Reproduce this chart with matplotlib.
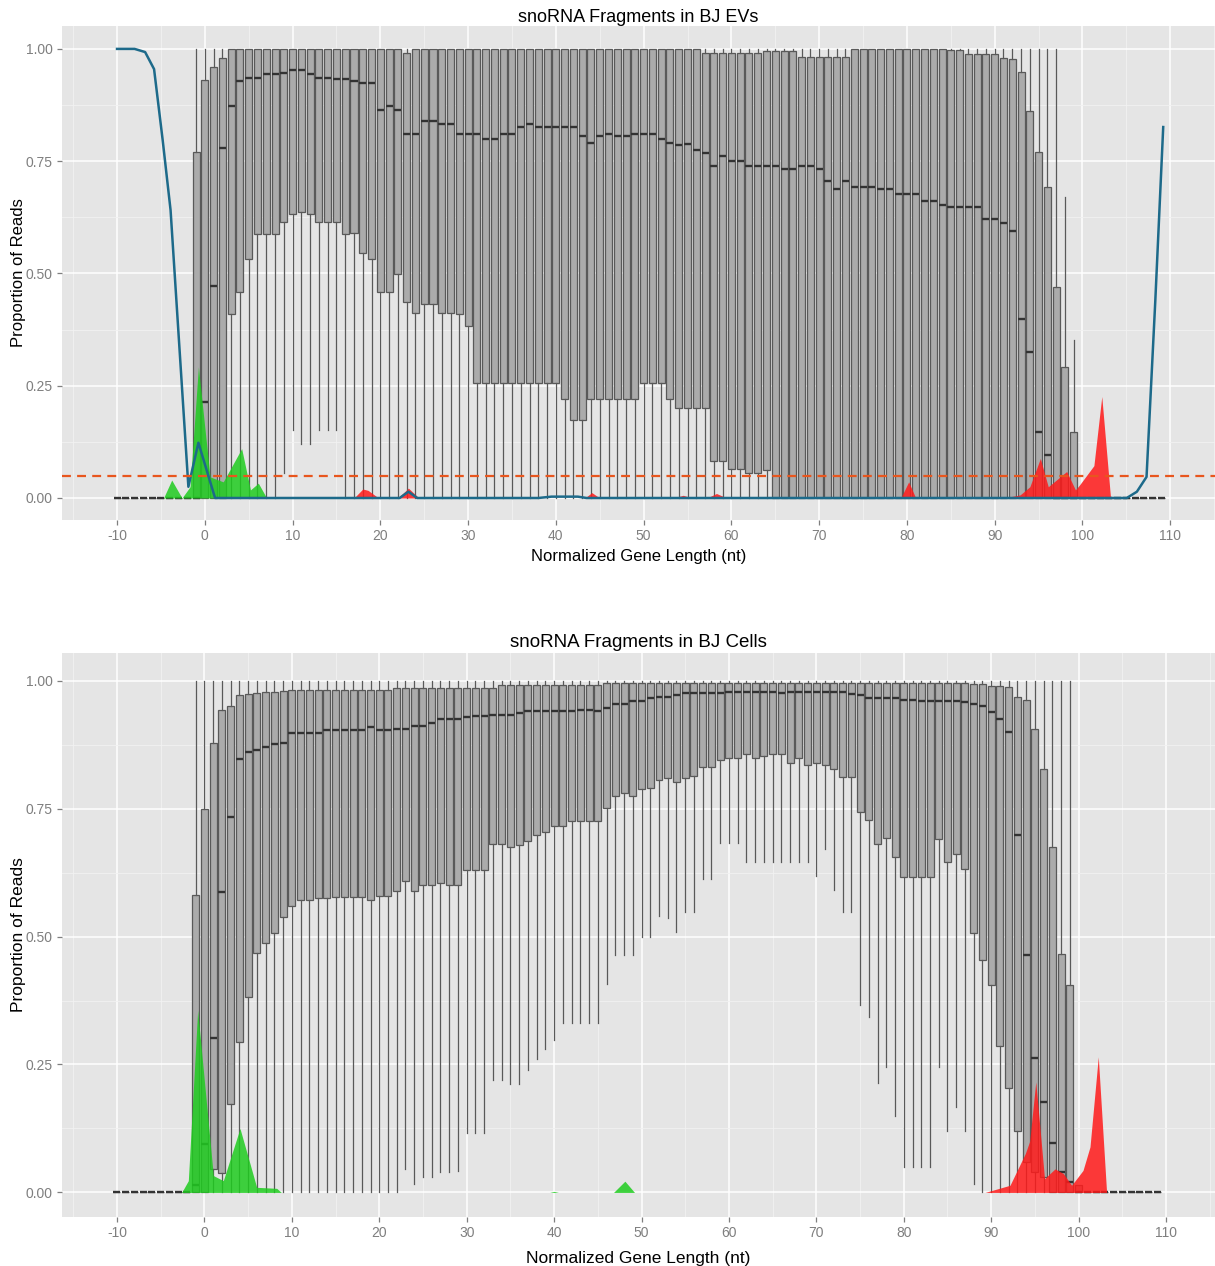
import matplotlib
matplotlib.use("Agg")
import matplotlib.pyplot as plt
from matplotlib.ticker import MultipleLocator

plt.rcParams['font.family'] = ['Liberation Sans', 'DejaVu Sans']

# ---------------- data: top panel (BJ EVs), box positions -1..99 ----------------
top_pos = list(range(-1, 100))
top_q3 = [0.77, 0.93, 0.96, 0.98, 1.00, 1.00, 1.00, 1.00, 1.00, 1.00,
          1.00, 1.00, 1.00, 1.00, 1.00, 1.00, 1.00, 1.00, 1.00, 1.00,
          1.00, 1.00, 1.00, 1.00, 0.99, 1.00, 1.00, 1.00, 1.00, 1.00,
          1.00, 1.00, 1.00, 1.00, 1.00, 1.00, 1.00, 1.00, 1.00, 1.00,
          1.00, 1.00, 1.00, 1.00, 1.00, 1.00, 1.00, 1.00, 1.00, 1.00,
          1.00, 1.00, 1.00, 1.00, 1.00, 1.00, 1.00, 1.00, 0.99, 0.99,
          0.99, 0.99, 0.99, 0.99, 0.99, 0.995, 0.995, 0.995, 0.995, 0.983,
          0.983, 0.983, 0.982, 0.982, 0.983, 1.00, 1.00, 1.00, 1.00, 1.00,
          1.00, 1.00, 1.00, 1.00, 1.00, 1.00, 0.998, 0.998, 0.989, 0.989,
          0.989, 0.989, 0.979, 0.977, 0.949, 0.862, 0.771, 0.692, 0.469, 0.292,
          0.146]
top_med = [0.0, 0.214, 0.471, 0.780, 0.872, 0.929, 0.936, 0.936, 0.945, 0.945,
           0.947, 0.952, 0.952, 0.945, 0.936, 0.936, 0.934, 0.934, 0.929, 0.925,
           0.925, 0.863, 0.872, 0.863, 0.811, 0.811, 0.840, 0.840, 0.833, 0.833,
           0.811, 0.811, 0.811, 0.800, 0.800, 0.811, 0.811, 0.827, 0.833, 0.827,
           0.827, 0.827, 0.827, 0.827, 0.805, 0.791, 0.805, 0.811, 0.805, 0.805,
           0.811, 0.811, 0.811, 0.800, 0.791, 0.786, 0.789, 0.774, 0.769, 0.740,
           0.762, 0.751, 0.751, 0.740, 0.740, 0.740, 0.740, 0.733, 0.733, 0.740,
           0.740, 0.733, 0.705, 0.687, 0.705, 0.693, 0.693, 0.693, 0.687, 0.687,
           0.676, 0.676, 0.676, 0.662, 0.662, 0.653, 0.649, 0.649, 0.649, 0.649,
           0.622, 0.622, 0.613, 0.595, 0.399, 0.324, 0.146, 0.096, 0.0, 0.0,
           0.0]
top_q1 = [0.0, 0.0, 0.0, 0.0, 0.409, 0.458, 0.532, 0.587, 0.587, 0.587,
          0.614, 0.632, 0.637, 0.632, 0.614, 0.614, 0.614, 0.587, 0.589, 0.545,
          0.532, 0.458, 0.458, 0.498, 0.436, 0.411, 0.433, 0.433, 0.411, 0.411,
          0.409, 0.383, 0.255, 0.255, 0.255, 0.255, 0.255, 0.255, 0.255, 0.255,
          0.255, 0.255, 0.220, 0.174, 0.174, 0.220, 0.220, 0.220, 0.220, 0.220,
          0.220, 0.255, 0.255, 0.255, 0.220, 0.200, 0.200, 0.200, 0.200, 0.082,
          0.082, 0.064, 0.064, 0.055, 0.055, 0.062, 0.0, 0.0, 0.0, 0.0,
          0.0, 0.0, 0.0, 0.0, 0.0, 0.0, 0.0, 0.0, 0.0, 0.0,
          0.0, 0.0, 0.0, 0.0, 0.0, 0.0, 0.0, 0.0, 0.0, 0.0,
          0.0, 0.0, 0.0, 0.0, 0.0, 0.0, 0.0, 0.0, 0.0, 0.0,
          0.0]
top_lo = [0.0, 0.0, 0.0, 0.0, 0.0, 0.0, 0.0, 0.0, 0.0, 0.0,
          0.055, 0.151, 0.120, 0.120, 0.151, 0.151, 0.151, 0.0, 0.0, 0.0,
          0.0, 0.0, 0.0, 0.0, 0.0, 0.0, 0.0, 0.0, 0.0, 0.0,
          0.0, 0.0, 0.0, 0.0, 0.0, 0.0, 0.0, 0.0, 0.0, 0.0,
          0.0, 0.0, 0.0, 0.0, 0.0, 0.0, 0.0, 0.0, 0.0, 0.0,
          0.0, 0.0, 0.0, 0.0, 0.0, 0.0, 0.0, 0.0, 0.0, 0.0,
          0.0, 0.0, 0.0, 0.0, 0.0, 0.0, 0.0, 0.0, 0.0, 0.0,
          0.0, 0.0, 0.0, 0.0, 0.0, 0.0, 0.0, 0.0, 0.0, 0.0,
          0.0, 0.0, 0.0, 0.0, 0.0, 0.0, 0.0, 0.0, 0.0, 0.0,
          0.0, 0.0, 0.0, 0.0, 0.0, 0.0, 0.0, 0.0, 0.0, 0.0,
          0.0]
top_hi = [1.0] * 99 + [0.670, 0.352]
top_zero_pos = [-10, -9, -8, -7, -6, -5, -4, -3, -2,
                100, 101, 102, 103, 104, 105, 106, 107, 108, 109]

top_green_x = [-4.7, -3.77, -2.6, -1.68, -0.73, 0.6, 2.1, 4.2, 5.2, 6.1, 7.05]
top_green_y = [0.0, 0.04, 0.0, 0.025, 0.292, 0.047, 0.036, 0.11, 0.018, 0.033, 0.0]
top_red_x = [17.0, 18.0, 18.6, 19.8, 22.0, 23.2, 24.4, 43.3, 44.1, 45.0,
             53.4, 54.5, 55.6, 57.2, 58.3, 59.5, 79.3, 80.2, 81.0,
             91.0, 92.9, 94.0, 95.2, 96.1, 98.2, 99.2, 99.7, 101.3, 102.2, 103.2]
top_red_y = [0.0, 0.02, 0.017, 0.0, 0.0, 0.022, 0.0, 0.0, 0.012, 0.0,
             0.0, 0.006, 0.0, 0.0, 0.01, 0.0, 0.0, 0.036, 0.0,
             0.0, 0.007, 0.025, 0.088, 0.025, 0.059, 0.018, 0.03, 0.072, 0.226, 0.0]
top_blue_x = [-10.0, -8.0, -6.8, -5.78, -4.8, -3.9, -1.87, -0.73, 1.17,
              22.2, 23.2, 24.2, 38.0, 39.5, 42.5, 43.5,
              105.05, 106.2, 107.3, 108.3, 109.2]
top_blue_y = [1.0, 1.0, 0.993, 0.955, 0.797, 0.641, 0.025, 0.123, 0.0,
              0.0, 0.014, 0.0, 0.0, 0.003, 0.003, 0.0,
              0.0, 0.014, 0.047, 0.44, 0.826]
top_threshold = 0.05

# ---------------- data: bottom panel (BJ Cells), box positions -1..100 ----------------
bot_pos = list(range(-1, 101))
bot_q3 = [0.581, 0.749, 0.878, 0.942, 0.951, 0.971, 0.973, 0.975, 0.977, 0.977,
          0.979, 0.981, 0.981, 0.981, 0.981, 0.981, 0.981, 0.981, 0.981, 0.981,
          0.981, 0.981, 0.981, 0.985, 0.985, 0.985, 0.985, 0.985, 0.985, 0.985,
          0.985, 0.985, 0.985, 0.985, 0.985, 0.991, 0.991, 0.991, 0.991, 0.991,
          0.991, 0.991, 0.991, 0.991, 0.991, 0.991, 0.991, 0.996, 0.996, 0.996,
          0.996, 0.996, 0.996, 0.996, 0.996, 0.996, 0.996, 0.996, 0.996, 0.996,
          0.996, 0.996, 0.996, 0.996, 0.996, 0.996, 0.996, 0.996, 0.996, 0.996,
          0.996, 0.996, 0.996, 0.996, 0.996, 0.996, 0.996, 0.996, 0.996, 0.996,
          0.996, 0.996, 0.996, 0.996, 0.996, 0.996, 0.996, 0.996, 0.996, 0.993,
          0.993, 0.990, 0.990, 0.988, 0.968, 0.962, 0.906, 0.828, 0.674, 0.465,
          0.406, 0.015]
bot_med = [0.014, 0.095, 0.301, 0.587, 0.734, 0.847, 0.860, 0.864, 0.871, 0.877,
           0.879, 0.898, 0.898, 0.898, 0.898, 0.903, 0.903, 0.903, 0.903, 0.903,
           0.909, 0.903, 0.903, 0.905, 0.905, 0.912, 0.912, 0.918, 0.925, 0.925,
           0.925, 0.928, 0.930, 0.930, 0.933, 0.933, 0.933, 0.937, 0.941, 0.941,
           0.941, 0.941, 0.941, 0.941, 0.943, 0.943, 0.941, 0.946, 0.954, 0.954,
           0.961, 0.961, 0.966, 0.969, 0.969, 0.972, 0.976, 0.976, 0.976, 0.976,
           0.976, 0.977, 0.977, 0.977, 0.977, 0.977, 0.977, 0.976, 0.977, 0.977,
           0.977, 0.977, 0.977, 0.977, 0.977, 0.974, 0.972, 0.967, 0.967, 0.967,
           0.967, 0.963, 0.963, 0.961, 0.961, 0.961, 0.961, 0.961, 0.958, 0.954,
           0.950, 0.939, 0.925, 0.900, 0.699, 0.464, 0.262, 0.176, 0.097, 0.040,
           0.020, 0.0]
bot_q1 = [0.0, 0.0, 0.045, 0.037, 0.172, 0.294, 0.382, 0.467, 0.487, 0.506,
          0.538, 0.560, 0.571, 0.571, 0.575, 0.575, 0.578, 0.578, 0.578, 0.578,
          0.571, 0.579, 0.579, 0.588, 0.608, 0.588, 0.601, 0.601, 0.604, 0.600,
          0.600, 0.630, 0.630, 0.630, 0.681, 0.681, 0.675, 0.678, 0.686, 0.698,
          0.704, 0.715, 0.715, 0.726, 0.726, 0.726, 0.726, 0.752, 0.775, 0.781,
          0.774, 0.789, 0.791, 0.806, 0.809, 0.801, 0.809, 0.814, 0.832, 0.832,
          0.844, 0.848, 0.848, 0.857, 0.848, 0.852, 0.857, 0.857, 0.839, 0.848,
          0.835, 0.839, 0.835, 0.828, 0.811, 0.811, 0.744, 0.727, 0.680, 0.693,
          0.656, 0.617, 0.617, 0.617, 0.617, 0.691, 0.645, 0.661, 0.631, 0.507,
          0.454, 0.406, 0.286, 0.204, 0.121, 0.059, 0.040, 0.030, 0.0, 0.0,
          0.0, 0.0]
bot_lo = [0.0, 0.0, 0.0, 0.0, 0.0, 0.0, 0.0, 0.0, 0.0, 0.0,
          0.0, 0.0, 0.0, 0.0, 0.0, 0.0, 0.0, 0.0, 0.0, 0.0,
          0.0, 0.0, 0.0, 0.0, 0.046, 0.017, 0.031, 0.031, 0.039, 0.039,
          0.042, 0.116, 0.116, 0.116, 0.220, 0.220, 0.212, 0.212, 0.239, 0.261,
          0.280, 0.297, 0.331, 0.331, 0.331, 0.331, 0.331, 0.408, 0.464, 0.464,
          0.464, 0.500, 0.500, 0.541, 0.537, 0.508, 0.547, 0.547, 0.612, 0.612,
          0.682, 0.682, 0.682, 0.646, 0.646, 0.646, 0.646, 0.646, 0.646, 0.646,
          0.646, 0.618, 0.672, 0.591, 0.547, 0.547, 0.367, 0.343, 0.213, 0.245,
          0.149, 0.050, 0.050, 0.050, 0.050, 0.245, 0.121, 0.166, 0.121, 0.017,
          0.0, 0.0, 0.0, 0.0, 0.0, 0.0, 0.0, 0.0, 0.0, 0.0,
          0.0, 0.0]
bot_hi = [1.0] * 101 + [0.015]
bot_zero_pos = [-10, -9, -8, -7, -6, -5, -4, -3, -2,
                101, 102, 103, 104, 105, 106, 107, 108, 109]

bot_green_x = [-2.6, -1.84, -0.77, 1.02, 2.16, 4.07, 5.98, 8.27, 8.8,
               39.5, 40.0, 40.5, 46.8, 48.1, 49.2]
bot_green_y = [0.0, 0.023, 0.356, 0.033, 0.023, 0.125, 0.010, 0.008, 0.0,
               0.0, 0.002, 0.0, 0.0, 0.022, 0.0]
bot_red_x = [89.3, 92.15, 93.9, 94.4, 95.1, 96.1, 97.3, 98.25, 99.2, 100.5, 101.3, 102.25, 103.2]
bot_red_y = [0.0, 0.014, 0.076, 0.10, 0.216, 0.027, 0.046, 0.037, 0.014, 0.043, 0.089, 0.265, 0.0]

x_ticks = [-10, 0, 10, 20, 30, 40, 50, 60, 70, 80, 90, 100, 110]
y_ticks = [0.0, 0.25, 0.5, 0.75, 1.0]
y_tick_labels = ["0.00", "0.25", "0.50", "0.75", "1.00"]

# ---------------- styling ----------------
BG = '#E5E5E5'
BOX_FILL = '#ABABAB'
BOX_EDGE = '#595959'
MED = '#333333'
GREEN = '#1FCC1F'
RED = '#FF1A1A'
BLUE = '#1D6A8A'
ORANGE = '#E8561E'
TXT_GREY = '#7F7F7F'


def make_stats(lo, q1, med, q3, hi):
    return [dict(whislo=a, q1=b, med=c, q3=d, whishi=e, fliers=[])
            for a, b, c, d, e in zip(lo, q1, med, q3, hi)]


def style_axes(ax, xlim, ylim):
    ax.set_facecolor(BG)
    ax.set_xlim(*xlim)
    ax.set_ylim(*ylim)
    ax.set_xticks(x_ticks)
    ax.set_xticklabels([str(t) for t in x_ticks])
    ax.set_yticks(y_ticks)
    ax.set_yticklabels(y_tick_labels)
    ax.xaxis.set_minor_locator(MultipleLocator(5))
    ax.yaxis.set_minor_locator(MultipleLocator(0.125))
    ax.grid(which='major', color='white', linewidth=1.1)
    ax.grid(which='minor', color='#F2F2F2', linewidth=0.6)
    ax.set_axisbelow(True)
    for s in ax.spines.values():
        s.set_visible(False)
    ax.tick_params(which='major', length=3.5, width=0.9, color=TXT_GREY,
                   labelcolor=TXT_GREY, labelsize=10, pad=3)
    ax.tick_params(which='minor', length=0)


def draw_boxes(ax, positions, stats, width=0.8):
    ax.bxp(stats, positions=positions, widths=width, patch_artist=True,
           showfliers=False, showcaps=False, manage_ticks=False,
           boxprops=dict(facecolor=BOX_FILL, edgecolor=BOX_EDGE, linewidth=0.9),
           medianprops=dict(color=MED, linewidth=1.7, solid_capstyle='butt'),
           whiskerprops=dict(color=BOX_EDGE, linewidth=0.9), zorder=2)


W, H = 1215, 1266
fig = plt.figure(figsize=(W / 100, H / 100), dpi=100)

# top panel
ax1 = fig.add_axes([62 / W, 1 - 520 / H, (W - 62) / W, (520 - 26) / H])
style_axes(ax1, (-16.27, 115.1), (-0.049, 1.051))
zero_stats_top = make_stats([0.0] * len(top_zero_pos), [0.0] * len(top_zero_pos),
                            [0.0] * len(top_zero_pos), [0.0] * len(top_zero_pos),
                            [0.0] * len(top_zero_pos))
draw_boxes(ax1, top_zero_pos, zero_stats_top)
draw_boxes(ax1, top_pos, make_stats(top_lo, top_q1, top_med, top_q3, top_hi))
ax1.fill_between(top_green_x, 0, top_green_y, color=GREEN, alpha=0.85, linewidth=0, zorder=3)
ax1.fill_between(top_red_x, 0, top_red_y, color=RED, alpha=0.85, linewidth=0, zorder=3)
ax1.plot(top_blue_x, top_blue_y, color=BLUE, linewidth=1.8, zorder=4)
ax1.axhline(top_threshold, color=ORANGE, linewidth=1.6, linestyle=(0, (4, 2.8)), zorder=5)
ax1.set_title("snoRNA Fragments in BJ EVs", fontsize=13, color='black', pad=3)
ax1.set_xlabel("Normalized Gene Length (nt)", fontsize=12, labelpad=4)
ax1.set_ylabel("Proportion of Reads", fontsize=12)
ax1.yaxis.set_label_coords(-0.031, 0.5)

# bottom panel
ax2 = fig.add_axes([62 / W, 1 - 1217 / H, (W - 62) / W, (1217 - 653) / H])
style_axes(ax2, (-16.29, 115.6), (-0.048, 1.054))
zero_stats_bot = make_stats([0.0] * len(bot_zero_pos), [0.0] * len(bot_zero_pos),
                            [0.0] * len(bot_zero_pos), [0.0] * len(bot_zero_pos),
                            [0.0] * len(bot_zero_pos))
draw_boxes(ax2, bot_zero_pos, zero_stats_bot)
draw_boxes(ax2, bot_pos, make_stats(bot_lo, bot_q1, bot_med, bot_q3, bot_hi))
ax2.fill_between(bot_green_x, 0, bot_green_y, color=GREEN, alpha=0.85, linewidth=0, zorder=3)
ax2.fill_between(bot_red_x, 0, bot_red_y, color=RED, alpha=0.85, linewidth=0, zorder=3)
ax2.set_title("snoRNA Fragments in BJ Cells", fontsize=13.5, color='black', pad=4)
ax2.set_xlabel("Normalized Gene Length (nt)", fontsize=12.5, labelpad=8)
ax2.set_ylabel("Proportion of Reads", fontsize=12.5)
ax2.yaxis.set_label_coords(-0.031, 0.5)

fig.savefig("out.png", dpi=100)
